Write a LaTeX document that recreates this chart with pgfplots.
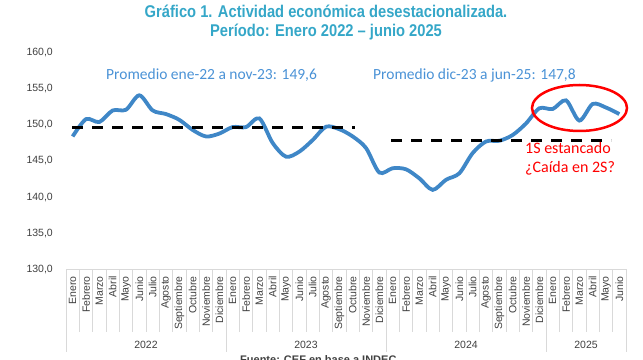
\documentclass[border=0pt]{standalone}
\usepackage{pgfplots}
\pgfplotsset{compat=1.18}
\usepackage{fontspec}
\setmainfont{Liberation Sans}
\newfontfamily\titlefont[FakeStretch=0.865]{Liberation Sans}
\newfontfamily\calfont{Carlito}
\definecolor{linecol}{HTML}{3F87C7}
\definecolor{annocol}{HTML}{4A92D6}
\definecolor{titlecol}{HTML}{35A7C8}
\definecolor{gridcol}{HTML}{D9D9D9}
\definecolor{labcol}{HTML}{404040}
\begin{document}
\begin{tikzpicture}
\begin{axis}[
  at={(0,0)}, anchor=south west,
  scale only axis, width=560bp, height=216.6bp,
  xmin=-0.5, xmax=41.5, ymin=130, ymax=160,
  clip=false,
  axis line style={draw=none},
  major tick length=0pt,
  xtick={0,...,41},
  xticklabels={Enero,Febrero,Marzo,Abril,Mayo,Junio,Julio,Agosto,Septiembre,Octubre,Noviembre,Diciembre,
               Enero,Febrero,Marzo,Abril,Mayo,Junio,Julio,Agosto,Septiembre,Octubre,Noviembre,Diciembre,
               Enero,Febrero,Marzo,Abril,Mayo,Junio,Julio,Agosto,Septiembre,Octubre,Noviembre,Diciembre,
               Enero,Febrero,Marzo,Abril,Mayo,Junio},
  xticklabel style={font=\fontsize{10.5bp}{12bp}\selectfont, text=labcol, inner sep=0pt, yshift=-6.7bp, rotate=90, anchor=east},
  ytick={130,135,...,160},
  yticklabel style={font=\fontsize{10.5bp}{12bp}\selectfont, text=labcol, inner sep=0pt, xshift=-13bp, anchor=east,
    /pgf/number format/.cd, fixed, fixed zerofill, precision=1, use comma, assume math mode=true},
]
\addplot[linecol, line width=3.8bp, smooth, tension=0.5] coordinates {
(0,148.4) (1,150.8) (2,150.4) (3,152.0) (4,152.1) (5,154.1) (6,152.0) (7,151.5) (8,150.7) (9,149.3) (10,148.4) (11,148.8)
(12,149.7) (13,149.7) (14,150.9) (15,147.5) (16,145.6) (17,146.3) (18,147.9) (19,149.75) (20,149.4) (21,148.4) (22,146.8) (23,143.4)
(24,144.0) (25,143.85) (26,142.6) (27,141.0) (28,142.4) (29,143.3) (30,146.1) (31,147.7) (32,147.8) (33,148.6) (34,150.2) (35,152.3)
(36,152.2) (37,153.4) (38,150.6) (39,152.9) (40,152.4) (41,151.5)
};
\addplot[black, line width=3bp, dash pattern=on 11bp off 9bp] coordinates {(-0.05,149.6) (21.2,149.6)};
\addplot[black, line width=3bp, dash pattern=on 11bp off 9bp] coordinates {(23.9,147.8) (40.4,147.8)};
\end{axis}
% category table
\draw[gridcol, line width=0.8bp] (0,0) -- (560bp,0);
\foreach \i in {1,...,41} {\draw[gridcol, line width=0.8bp] (\i*13.3333bp,0) -- (\i*13.3333bp,-62.4bp);}
\foreach \i in {0,12,24,36,42} {\draw[gridcol, line width=0.8bp] (\i*13.3333bp,0) -- (\i*13.3333bp,-82.4bp);}
\foreach \c/\y in {6/2022,18/2023,30/2024,39/2025} {\node[font=\fontsize{10.5bp}{12bp}\selectfont, text=labcol, inner sep=0pt] at (\c*13.3333bp,-75.7bp) {\y};}
% titles
\node[font=\titlefont\bfseries\fontsize{17bp}{19bp}\selectfont, text=titlecol, inner sep=0pt] at (260bp,257.6bp) {Gráfico 1. Actividad económica desestacionalizada.};
\node[font=\titlefont\bfseries\fontsize{17bp}{19bp}\selectfont, text=titlecol, inner sep=0pt] at (260bp,237bp) {Período: Enero 2022 – junio 2025};
% annotations
\node[font=\calfont\fontsize{15.5bp}{18bp}\selectfont, text=annocol, inner sep=0pt, anchor=west] at (40bp,194.3bp) {Promedio ene-22 a nov-23: 149,6};
\node[font=\calfont\fontsize{15.5bp}{18bp}\selectfont, text=annocol, inner sep=0pt, anchor=west] at (307bp,194.3bp) {Promedio dic-23 a jun-25: 147,8};
\node[font=\calfont\fontsize{16bp}{18bp}\selectfont, text=red, inner sep=0pt, anchor=west] at (459bp,121.3bp) {1S estancado};
\node[font=\calfont\fontsize{16bp}{18bp}\selectfont, text=red, inner sep=0pt, anchor=west] at (459bp,101.3bp) {¿Caída en 2S?};
\draw[red, line width=2.5bp] (513.5bp,161.3bp) ellipse [x radius=47.5bp, y radius=23bp];
% source (cut off at bottom, as in the reference)
\node[font=\bfseries\fontsize{11bp}{13bp}\selectfont, text=labcol, inner sep=0pt, anchor=north west] at (174bp,-86.5bp) {Fuente: CEF en base a INDEC};
\pgfresetboundingbox
\useasboundingbox (-66bp,-90.7bp) rectangle (577bp,269.3bp);
\end{tikzpicture}
\end{document}
